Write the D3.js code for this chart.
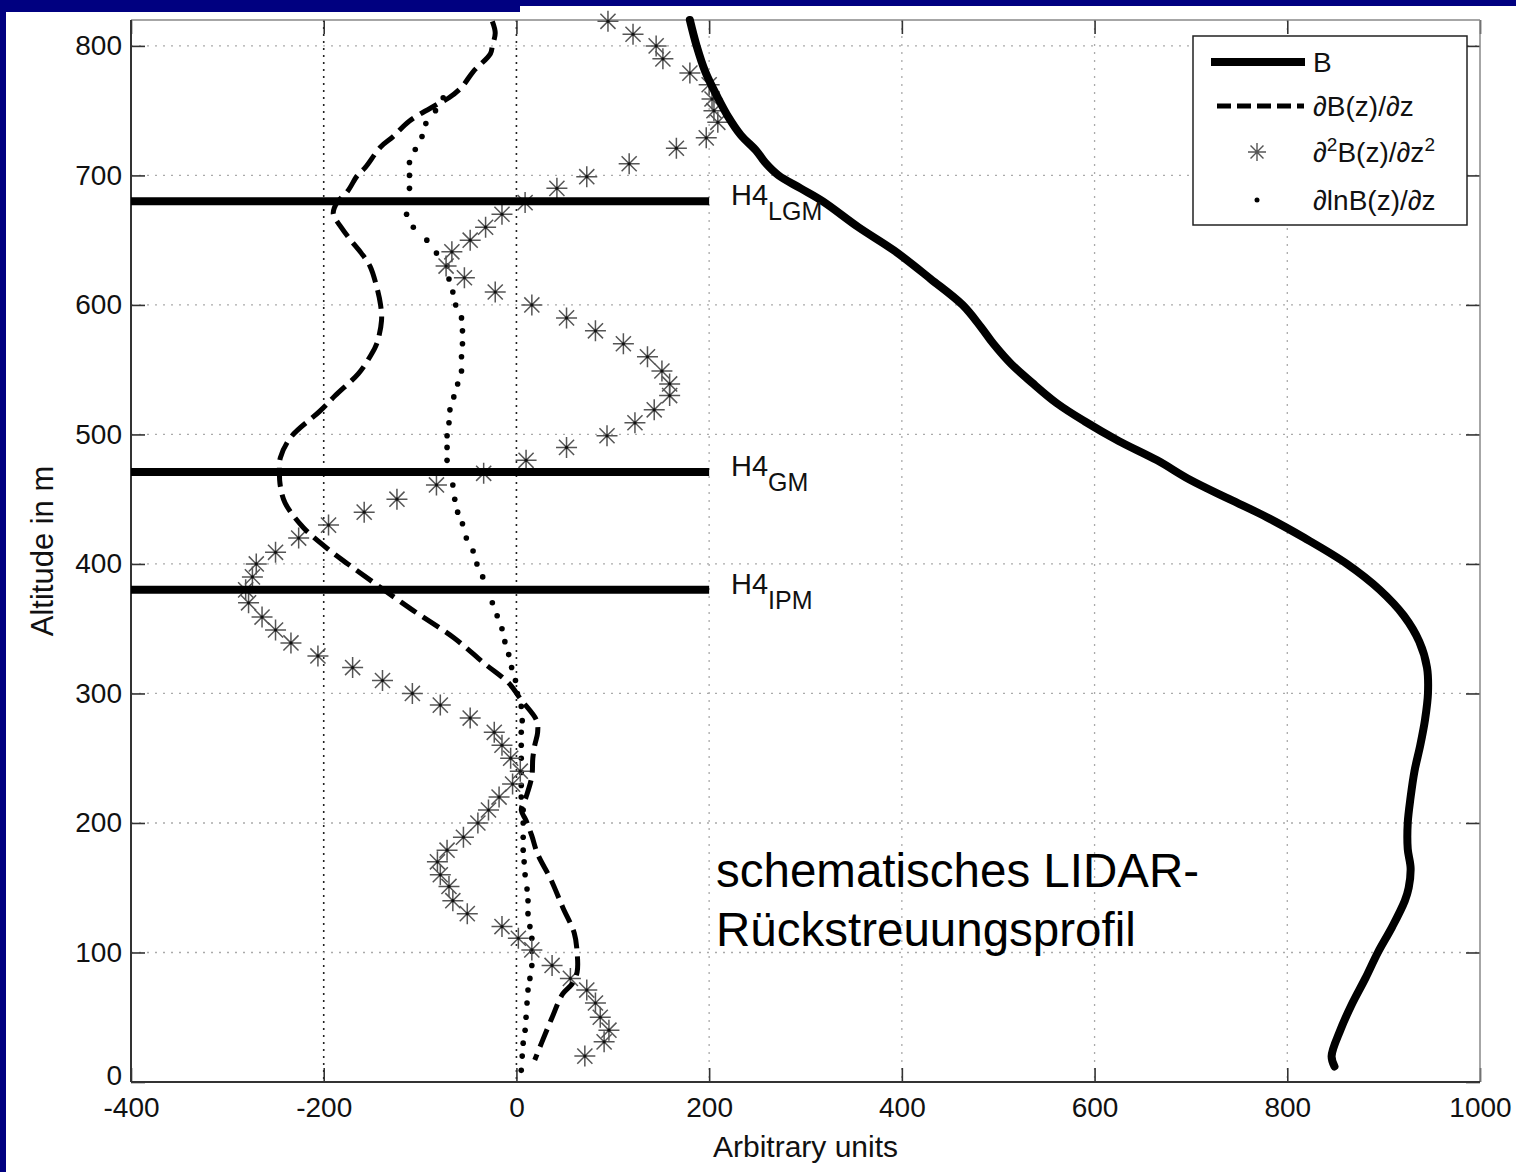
<!DOCTYPE html>
<html><head><meta charset="utf-8">
<script src="https://cdn.jsdelivr.net/npm/d3@7"></script>
<style>body{margin:0;background:#fff}svg{display:block}</style>
</head><body><svg id="c" width="1516" height="1172"></svg>
<script>
// ---------- data ----------
const xTicks = [-400, -200, 0, 200, 400, 600, 800, 1000];
const yTicks = [0, 100, 200, 300, 400, 500, 600, 700, 800];

// B (backscatter profile)
const bAlt = [820,800,780,760,745,731,719,710,700,690,680,660,642,620,600,583,570,554,540,524,510,495,480,465,450,436,420,400,380,360,340,320,300,280,260,240,220,200,180,165,150,140,120,100,80,60,40,20,12];
const bVal = [180,187,196,209,220,233,249,258,272,295,318,355,392,430,463,482,495,514,535,561,590,625,665,699,740,779,818,862,896,921,937,945,946,943,938,932,928,925,925,928,926,922,909,894,881,867,855,846,849];

// dB(z)/dz
const dAlt = [819,810,800,794,780,768,760,755,742,730,722,706,700,688,680,675,670,660,650,640,630,614,600,588,570,560,547,530,518,498,482,472,460,447,428,410,400,385,364,343,323,308,295,279,270,260,250,236,220,210,202,190,176,156,135,115,100,85,76,68,48,30,17];
const dVal = [-25,-22,-25,-27,-45,-57,-70,-82,-111,-128,-141,-157,-165,-175,-185,-189,-190,-182,-172,-161,-152,-145,-141,-140,-145,-152,-164,-188,-204,-234,-245,-246,-245,-240,-221,-193,-175,-147,-107,-65,-33,-8,5,21,22,19,17,16,10,5,10,16,22,36,48,60,63,63,58,48,36,26,19];

// d2B(z)/dz2
const sAlt = [819,809,800,790,779,770,759,750,741,729,721,709,699,690,679,670,660,650,641,630,621,610,600,590,580,570,560,549,539,530,519,509,499,490,480,470,461,450,440,430,420,409,400,390,380,370,359,349,339,329,320,310,300,291,281,270,260,250,240,230,220,210,200,189,179,170,160,151,140,130,120,111,102,90,80,71,61,50,40,31,20];
const sVal = [95,121,145,152,180,200,203,205,209,197,166,117,73,42,9,-15,-32,-48,-67,-73,-54,-22,16,52,82,111,136,151,159,159,143,123,94,52,10,-34,-83,-124,-158,-195,-226,-250,-270,-274,-281,-278,-264,-250,-234,-206,-170,-139,-108,-79,-48,-23,-15,-6,4,-4,-18,-29,-40,-55,-72,-82,-79,-70,-66,-51,-15,2,16,37,56,73,82,87,96,91,71];

// d lnB(z)/dz
const lAlt = [760,750,740,730,720,710,700,690,680,670,660,650,640,630,620,610,600,590,580,570,560,549,539,529,519,509,499,490,480,471,461,450,440,431,420,410,400,390,380,370,360,350,340,330,320,310,300,290,279,270,260,250,239,229,220,210,200,189,179,170,160,149,140,130,120,111,101,90,80,71,61,50,40,30,20,9];
const lVal = [-76,-84,-94,-98,-105,-111,-111,-111,-113,-114,-107,-93,-83,-72,-70,-66,-63,-57,-56,-56,-57,-57,-61,-65,-69,-70,-72,-72,-72,-70,-66,-64,-61,-56,-52,-45,-41,-35,-31,-25,-20,-15,-12,-8,-5,-1,1,5,6,5,5,5,5,5,5,7,7,7,7,8,9,11,12,12,14,16,16,16,14,12,11,10,9,7,6,5];

const hNames = ["LGM", "GM", "IPM"];
const hAlts = [680, 471, 380];
const hFrom = -400, hTo = 200;

// ---------- layout ----------
const svg = d3.select("#c");
const L = 131, R = 1480, T = 20, Bm = 1082;
const x = d3.scaleLinear().domain([-400, 1000]).range([L, R]);
const y = d3.scaleLinear().domain([0, 820]).range([Bm, T]);
const FONT = "'Liberation Sans', Arial, Helvetica, sans-serif";
const fmt = d => String(d);

svg.append("rect").attr("width",1516).attr("height",1172).attr("fill","#fff");
// slide background fragments
svg.append("rect").attr("x",0).attr("y",0).attr("width",1516).attr("height",6).attr("fill","#000080");
svg.append("rect").attr("x",0).attr("y",0).attr("width",520).attr("height",12).attr("fill","#000080");
svg.append("rect").attr("x",0).attr("y",0).attr("width",6).attr("height",1172).attr("fill","#000080");

// grid
const grid = svg.append("g");
xTicks.filter(v => v > -400 && v < 1000).forEach(v => {
  const dark = (v === -200 || v === 0);
  grid.append("line").attr("x1", x(v)).attr("x2", x(v)).attr("y1", T).attr("y2", Bm)
    .attr("stroke", dark ? "#222" : "#aaa").attr("stroke-width", dark ? 1.6 : 1.3)
    .attr("stroke-dasharray", dark ? "2,5" : "2,6");
});
yTicks.filter(v => v > 0).forEach(v => {
  grid.append("line").attr("x1", L).attr("x2", R).attr("y1", y(v)).attr("y2", y(v))
    .attr("stroke", "#aaa").attr("stroke-width", 1.3).attr("stroke-dasharray", "2,6");
});

// axes with inside ticks
function styleAxis(g){
  g.select(".domain").remove();
  g.selectAll(".tick line").attr("stroke","#333").attr("stroke-width",1.6);
  g.selectAll("text").attr("font-family",FONT).attr("font-size",28).attr("fill","#111");
}
svg.append("g").attr("transform",`translate(0,${Bm})`)
  .call(d3.axisBottom(x).tickValues(xTicks).tickSize(-14).tickPadding(15).tickFormat(fmt))
  .call(styleAxis);
svg.append("g").attr("transform",`translate(0,${T})`)
  .call(d3.axisTop(x).tickValues(xTicks).tickSize(-14).tickFormat(""))
  .call(styleAxis);
const yAxisG = svg.append("g").attr("transform",`translate(${L},0)`)
  .call(d3.axisLeft(y).tickValues(yTicks).tickSize(-14).tickPadding(9).tickFormat(fmt))
  .call(styleAxis);
// the "0" label sits just above the "-400" label, as in the original
yAxisG.selectAll(".tick").filter(d => d === 0).select("text").attr("dy","0.1em");
svg.append("g").attr("transform",`translate(${R},0)`)
  .call(d3.axisRight(y).tickValues(yTicks).tickSize(-14).tickFormat(""))
  .call(styleAxis);

// box
svg.append("line").attr("x1",L).attr("x2",R).attr("y1",T).attr("y2",T).attr("stroke","#888").attr("stroke-width",1.5);
svg.append("line").attr("x1",R).attr("x2",R).attr("y1",T).attr("y2",Bm).attr("stroke","#888").attr("stroke-width",1.5);
svg.append("line").attr("x1",L).attr("x2",R).attr("y1",Bm).attr("y2",Bm).attr("stroke","#333").attr("stroke-width",2);
svg.append("line").attr("x1",L).attr("x2",L).attr("y1",T).attr("y2",Bm).attr("stroke","#333").attr("stroke-width",2);

// axis titles
svg.append("text").attr("x",(L+R)/2).attr("y",1157).attr("text-anchor","middle")
  .attr("font-family",FONT).attr("font-size",30).attr("fill","#111").text("Arbitrary units");
svg.append("text").attr("transform",`translate(53,${(T+Bm)/2}) rotate(-90)`).attr("text-anchor","middle")
  .attr("font-family",FONT).attr("font-size",31).attr("fill","#111").text("Altitude in m");

// series
const line = d3.line().x(d => x(d[1])).y(d => y(d[0])).curve(d3.curveCatmullRom.alpha(0.5));
const bData = bAlt.map((a,i)=>[a,bVal[i]]);
const dData = dAlt.map((a,i)=>[a,dVal[i]]);
const sData = sAlt.map((a,i)=>[a,sVal[i]]);
const lData = lAlt.map((a,i)=>[a,lVal[i]]);

// lnB dots
svg.append("g").selectAll("circle").data(lData).join("circle")
  .attr("cx", d => x(d[1])).attr("cy", d => y(d[0])).attr("r", 2.8).attr("fill", "#000");

// stars
const starPath = r => { const q = r*0.72; return `M${-r},0H${r}M0,${-r}V${r}M${-q},${-q}L${q},${q}M${-q},${q}L${q},${-q}`; };
const stars = svg.append("g").selectAll("g").data(sData).join("g")
  .attr("transform", d => `translate(${x(d[1])},${y(d[0])})`);
stars.append("path").attr("d", starPath(10.5)).attr("stroke","#555").attr("stroke-width",1.5).attr("fill","none");
stars.append("circle").attr("r",1.6).attr("fill","#111");

// dashed derivative
svg.append("path").datum(dData).attr("d", line).attr("fill","none").attr("stroke","#000")
  .attr("stroke-width",5).attr("stroke-dasharray","19,8");

// B profile
svg.append("path").datum(bData).attr("d", line).attr("fill","none").attr("stroke","#000")
  .attr("stroke-width",8).attr("stroke-linejoin","round").attr("stroke-linecap","round");

// H4 lines
hAlts.forEach((a,i) => {
  svg.append("line").attr("x1",x(hFrom)).attr("x2",x(hTo)).attr("y1",y(a)).attr("y2",y(a))
    .attr("stroke","#000").attr("stroke-width",8);
  const t = svg.append("text").attr("x",731).attr("y",y(a)+4).attr("font-family",FONT).attr("font-size",29).attr("fill","#111");
  t.append("tspan").text("H4");
  t.append("tspan").attr("font-size",25).attr("dy",15).text(hNames[i]);
});

// annotation
const ann = svg.append("text").attr("font-family",FONT).attr("font-size",47.5).attr("fill","#000");
ann.append("tspan").attr("x",716).attr("y",887).text("schematisches LIDAR-");
ann.append("tspan").attr("x",716).attr("y",946).text("Rückstreuungsprofil");

// legend
const lg = svg.append("g");
lg.append("rect").attr("x",1193).attr("y",36).attr("width",274).attr("height",189)
  .attr("fill","#fff").attr("stroke","#222").attr("stroke-width",1.5);
const rowsY = [62, 106, 152, 200];
lg.append("line").attr("x1",1211).attr("x2",1305).attr("y1",rowsY[0]).attr("y2",rowsY[0]).attr("stroke","#000").attr("stroke-width",8);
lg.append("line").attr("x1",1217).attr("x2",1304).attr("y1",rowsY[1]).attr("y2",rowsY[1]).attr("stroke","#000").attr("stroke-width",5).attr("stroke-dasharray","14,6");
lg.append("path").attr("transform",`translate(1257,${rowsY[2]})`).attr("d",starPath(9)).attr("stroke","#555").attr("stroke-width",1.4).attr("fill","none");
lg.append("circle").attr("cx",1257).attr("cy",rowsY[3]).attr("r",2.5).attr("fill","#000");
const tx = 1313;
function legText(i){ return lg.append("text").attr("x",tx).attr("y",rowsY[i]+10).attr("font-family",FONT).attr("font-size",28).attr("fill","#111"); }
legText(0).text("B");
legText(1).text("\u2202B(z)/\u2202z");
const t2 = legText(2);
t2.append("tspan").text("\u2202");
t2.append("tspan").attr("font-size",19).attr("dy",-11).text("2");
t2.append("tspan").attr("dy",11).text("B(z)/\u2202z");
t2.append("tspan").attr("font-size",19).attr("dy",-11).text("2");
legText(3).text("\u2202lnB(z)/\u2202z");
</script></body></html>
